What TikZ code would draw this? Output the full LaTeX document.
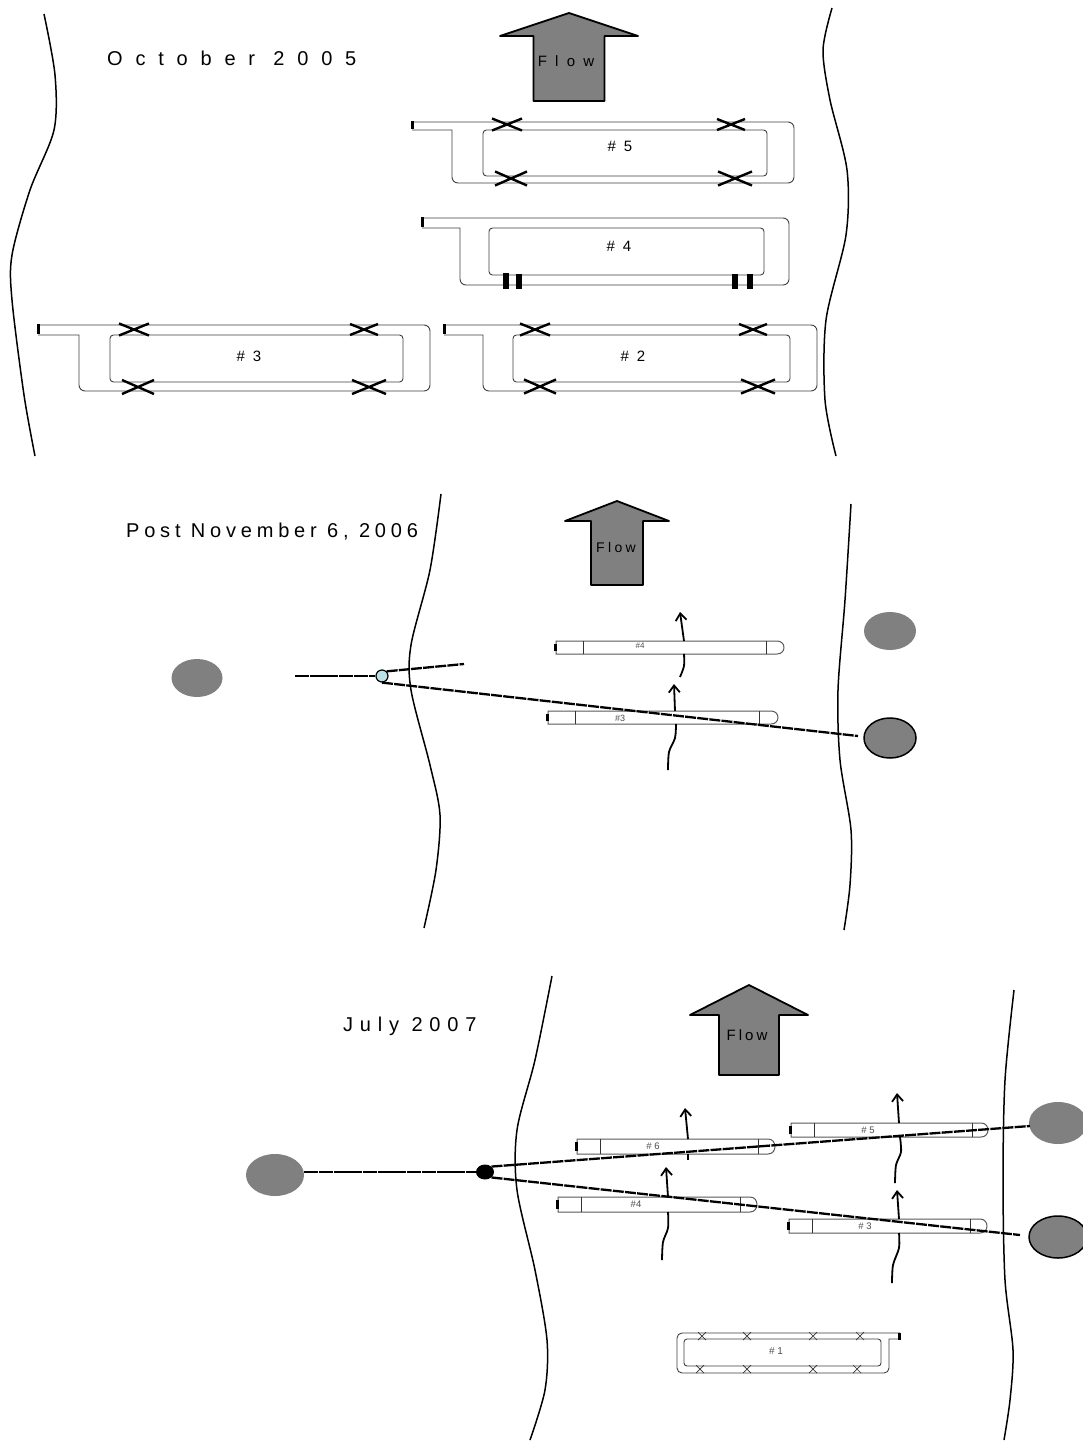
\documentclass[tikz,border=0pt]{standalone}
\usepackage{fontspec}
\setmainfont{Liberation Sans}
\usetikzlibrary{arrows.meta,shapes.geometric}
\definecolor{hubblue}{RGB}{185,225,230}
\newcommand{\spc}[1]{\addfontfeature{LetterSpace=#1}}
\tikzset{
  bank/.style={line width=1.5pt,black},
  bigarrow/.style={draw=black,line width=1.8pt,fill=black!50,line join=round},
  loopline/.style={draw=black!75,line width=.9pt},
  crossmark/.style={line width=2.4pt,black},
  thinx/.style={line width=.7pt,black!80},
  stub/.style={line width=3pt,black},
  bar/.style={line width=5.5pt,black},
  tube/.style={draw=black!65,line width=1pt,fill=white},
  divider/.style={line width=.8pt,black!80},
  pipe/.style={line width=2.8pt,black,dash pattern=on 14pt off .7pt},
  pipeb/.style={line width=2.3pt,black,dash pattern=on 11pt off 1.2pt},
  flowline/.style={line width=1.8pt,black},
  flowarr/.style={line width=1.8pt,black,-{Straight Barb[length=7pt,width=11pt,line width=1.8pt]}},
  pond/.style={ellipse,fill=black!50,inner sep=0pt},
  pondb/.style={ellipse,fill=black!50,draw=black,line width=1.5pt,inner sep=0pt},
  title/.style={anchor=west,inner sep=0pt},
  looplabel/.style={font=\fontsize{15}{17}\selectfont\spc{25},inner sep=0pt},
  tubelabel/.style={font=\fontsize{9.5}{11}\selectfont,text=black!70,inner sep=0pt},
}
% stubx top step bottom left right innerleft innerright innerbottom
\newcommand{\loopshape}[9]{%
  \draw[loopline] (#1,#2) [rounded corners=6pt] -- (#6,#2) -- (#6,#4) -- (#5,#4) [sharp corners] -- (#5,#3) -- (#1,#3);
  \draw[loopline,rounded corners=3.5pt] (#7,#3) rectangle (#8,#9);
  \draw[stub] (#1,#2-1) -- (#1,#3-1);
}
\newcommand{\xmark}[4]{%
  \draw[crossmark] (#1-#3,#2-#4) -- (#1+#3,#2+#4) (#1-#3,#2+#4) -- (#1+#3,#2-#4);
}
\newcommand{\xthin}[2]{%
  \draw[thinx] (#1-4,#2-4) -- (#1+4,#2+4) (#1-4,#2+4) -- (#1+4,#2-4);
}
% left right top bottom div1 div2
\newcommand{\tubeshape}[6]{%
  \draw[tube] (#1,#3) -- (#2-7,#3) .. controls (#2+2.3,#3) and (#2+2.3,#4) .. (#2-7,#4) -- (#1,#4) -- cycle;
  \draw[divider] (#5,#3) -- (#5,#4) (#6,#3) -- (#6,#4);
  \draw[line width=3pt,black] (#1-.6,#3+3) -- (#1-.6,#4-3);
}
% tipx tipy headbase halfhead halfshaft bottom
\newcommand{\blockarrow}[6]{%
  \draw[bigarrow] (#1,#2) -- (#1+#4,#3) -- (#1+#5,#3) -- (#1+#5,#6) -- (#1-#5,#6) -- (#1-#5,#3) -- (#1-#4,#3) -- cycle;
}
\begin{document}
\begin{tikzpicture}[x=1pt,y=-1pt]
\useasboundingbox[fill=white] (0,0) rectangle (1082,1442);

% ===== Panel 1
\draw[bank] plot[smooth] coordinates {(44,14) (55,75) (54,130) (30,190) (12,255) (12,300) (24,395) (35,456)};
\draw[bank] plot[smooth] coordinates {(832,8) (823,50) (830,100) (847,170) (846,235) (826,320) (825,400) (836,456)};
\node[title,font=\fontsize{20}{24}\selectfont\spc{64}] (t1) at (107,58) {October 2005};
\blockarrow{569}{13}{36}{69}{35.5}{101}
\node[inner sep=0pt,font=\fontsize{15}{17}\selectfont\spc{55}] (f1) at (566,61) {Flow};

\loopshape{412}{122}{130}{183}{452}{794}{483}{767}{176}
\xmark{507}{124.5}{15}{6}\xmark{731}{124.5}{14}{5.5}\xmark{511}{178.5}{16}{7}\xmark{735}{178.5}{17}{7}
\node[looplabel] (n5) at (620,146) {\# 5};

\loopshape{422}{218}{228}{285}{460}{789}{489}{764}{275}
\draw[bar] (506,273) -- (506,289) (519,274) -- (519,289) (735,274) -- (735,289) (750,274) -- (750,289);
\node[looplabel] (n4) at (619,246) {\# 4};

\loopshape{38}{325}{335}{391}{79}{430}{110}{403}{382}
\xmark{134}{329.5}{15}{6}\xmark{364}{329.5}{14}{5.5}\xmark{138}{387}{16}{7}\xmark{369}{387}{17}{7}
\node[looplabel] (n3) at (249,356) {\# 3};

\loopshape{444}{325}{335}{391}{483}{817}{513}{790}{382}
\xmark{535}{329.5}{15}{6}\xmark{753}{329.5}{14}{5.5}\xmark{540}{386.5}{16}{7}\xmark{758}{386.5}{17}{7}
\node[looplabel] (n2) at (633,356) {\# 2};

% ===== Panel 2
\draw[bank] plot[smooth] coordinates {(441,494) (430,570) (411,645) (411,690) (430,765) (440,815) (436,870) (424,928)};
\draw[bank] plot[smooth] coordinates {(851,504) (845,600) (838,690) (840,760) (851,830) (850,885) (844,930)};
\node[title,font=\fontsize{20}{24}\selectfont\spc{24}] (t2) at (126,532) {Post November 6, 2006};
\blockarrow{617}{501}{521}{52}{26}{585}
\node[inner sep=0pt,font=\fontsize{14}{16}\selectfont\spc{24}] (f2) at (616,547) {Flow};

\tubeshape{556}{784}{641}{654}{583}{766}
\node[tubelabel,font=\fontsize{8}{9}\selectfont] (p4) at (640,646) {\#4};
\tubeshape{548}{778}{711}{724}{575}{759}
\node[tubelabel,font=\fontsize{9}{10}\selectfont] (p3) at (620,718) {\#3};

\draw[flowline] plot[smooth] coordinates {(668,770) (669,752) (675,738) (676,724)};
\draw[flowarr] (675,711) -- (674,684);
\draw[flowline] plot[smooth] coordinates {(680,677) (684,666) (684,654)};
\draw[flowarr] (684,641) -- (680,612);

\node[pond,minimum width=51pt,minimum height=38pt] (pl) at (197,678) {};
\node[pond,minimum width=52pt,minimum height=38pt] (pr1) at (890,631) {};
\node[pondb,minimum width=52pt,minimum height=40pt] (pr2) at (890,738) {};
\node[circle,draw=black,line width=1.2pt,fill=hubblue,minimum size=12pt,inner sep=0pt] (hub2) at (382,676) {};
\coordinate (a2) at (295,676);
\coordinate (b2) at (464,664);
\coordinate (c2) at (858,736);
\draw[pipe] (a2) -- (hub2.west);
\draw[pipeb] (hub2.north east) -- (b2);
\draw[pipeb] (hub2.south) -- (c2);

% ===== Panel 3
\draw[bank] plot[smooth] coordinates {(552,976) (535,1060) (517,1130) (517,1190) (535,1270) (547,1340) (545,1390) (530,1440)};
\draw[bank] plot[smooth] coordinates {(1014,990) (1005,1080) (1003,1180) (1005,1280) (1013,1350) (1010,1400) (1004,1440)};
\node[title,font=\fontsize{20}{24}\selectfont\spc{34}] (t3) at (343,1026) {July 2007};
\blockarrow{749}{985}{1015}{59}{30}{1075}
\node[inner sep=0pt,font=\fontsize{15}{17}\selectfont\spc{20}] (f3) at (747,1035) {Flow};

\tubeshape{577}{775}{1139}{1154}{600}{758}
\tubeshape{791}{988}{1123}{1137}{814}{972}
\tubeshape{558}{757}{1197}{1212}{581}{740}
\tubeshape{789}{987}{1219}{1233}{812}{970}
\node[tubelabel] (q6) at (653,1146) {\# 6};
\node[tubelabel] (q5) at (868,1130) {\# 5};
\node[tubelabel] (q4) at (636,1204) {\#4};
\node[tubelabel] (q3) at (865,1226) {\# 3};

\draw[flowline] plot[smooth] coordinates {(662,1260) (663,1242) (668,1228) (668,1212)};
\draw[flowarr] (668,1197) -- (666,1167);
\draw[flowline] (688,1160) -- (688,1154);
\draw[flowarr] (688,1139) -- (685,1108);
\draw[flowline] plot[smooth] coordinates {(892,1283) (893,1265) (899,1248) (899,1233)};
\draw[flowarr] (899,1219) -- (897,1190);
\draw[flowline] plot[smooth] coordinates {(895,1183) (896,1165) (901,1152) (900,1137)};
\draw[flowarr] (899,1123) -- (897,1093);

\node[pond,minimum width=58pt,minimum height=42pt] (ql) at (275,1175) {};
\node[pond,minimum width=58pt,minimum height=42pt] (qr1) at (1058,1123) {};
\node[pondb,minimum width=58pt,minimum height=42pt] (qr2) at (1058,1237) {};
\node[ellipse,fill=black,minimum width=18pt,minimum height=15pt,inner sep=0pt] (hub3) at (485,1172) {};
\coordinate (a3) at (1030,1126);
\coordinate (b3) at (1020,1235);
\draw[pipe] (hub3 -| ql.east) -- (hub3);
\draw[pipeb] (hub3.north east) -- (a3);
\draw[pipeb] (hub3.south east) -- (b3);

\draw[loopline] (900,1333) [rounded corners=5pt] -- (677,1333) -- (677,1373) -- (889,1373) [sharp corners] -- (889,1339) -- (900,1339);
\draw[loopline,rounded corners=3pt] (684,1339) rectangle (881,1366);
\draw[line width=2.4pt,black] (899.5,1333) -- (899.5,1340);
\xthin{702}{1336}\xthin{747}{1336}\xthin{813}{1336}\xthin{860}{1336}
\xthin{700}{1369}\xthin{747}{1369}\xthin{813}{1369}\xthin{857}{1369}
\node[tubelabel,font=\fontsize{10}{11}\selectfont] (q1) at (776,1351) {\# 1};
\end{tikzpicture}
\end{document}
